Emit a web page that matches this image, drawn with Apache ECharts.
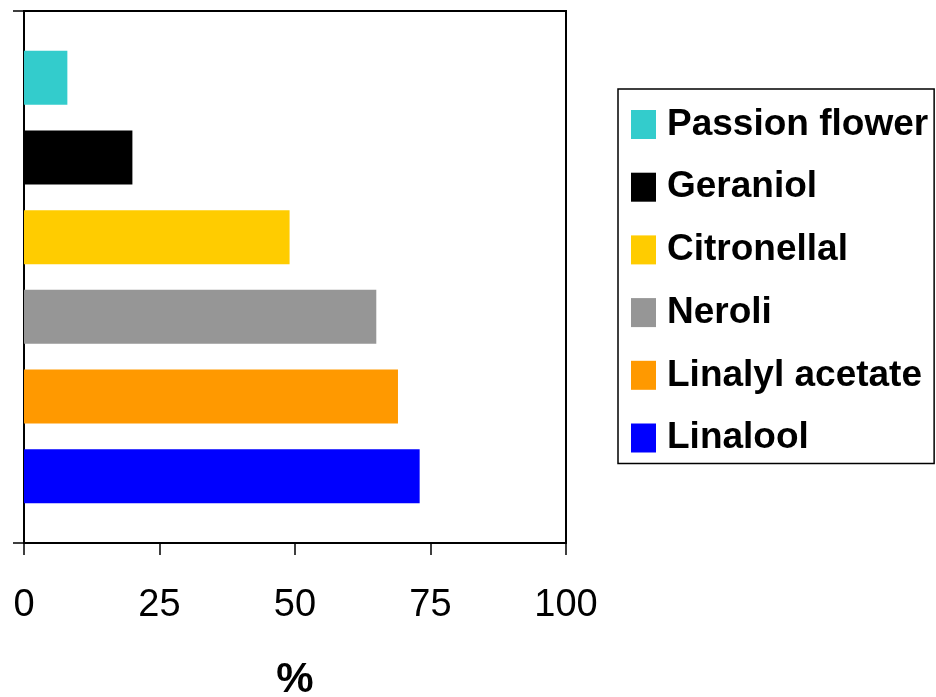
<!DOCTYPE html>
<html><head><meta charset="utf-8">
<script src="https://cdn.jsdelivr.net/npm/echarts@6/dist/echarts.min.js"></script>
<style>html,body{margin:0;padding:0;background:#fff}#c{width:936px;height:697px}</style>
</head><body><div id="c"></div>
<script>
const seriesNames = ['Passion flower', 'Geraniol', 'Citronellal', 'Neroli', 'Linalyl acetate', 'Linalool'];
const seriesValues = [8, 20, 49, 65, 69, 73];
const seriesColors = ['#33CCCC', '#000000', '#FFCC00', '#969696', '#FF9900', '#0000FF'];
const xTicks = [0, 25, 50, 75, 100];
const category = [''];

const FONT = '"Liberation Sans", Arial, sans-serif';
const chart = echarts.init(document.getElementById('c'));
chart.setOption({
  animation: false,
  backgroundColor: '#fff',
  grid: { left: 24, right: 370, top: 11, bottom: 154, outerBoundsMode: 'none', containLabel: false,
          show: true, borderColor: '#000', borderWidth: 2, backgroundColor: 'transparent' },
  legend: {
    data: seriesNames, orient: 'vertical', left: 618, top: 89,
    borderColor: '#000', borderWidth: 1.5, padding: [17, 6, 7, 13],
    itemWidth: 25, itemHeight: 29, itemGap: 25.7, icon: 'rect',
    textStyle: { fontFamily: FONT, fontWeight: 'bold', fontSize: 37, color: '#000', padding: [0, 0, 0, 6] }
  },
  xAxis: {
    type: 'value', min: xTicks[0], max: xTicks[xTicks.length - 1], interval: 25,
    name: '%', nameLocation: 'middle', nameGap: 116,
    nameTextStyle: { fontFamily: FONT, fontWeight: 'bold', fontSize: 42, color: '#000' },
    axisLine: { show: true, lineStyle: { color: '#000', width: 2 } },
    axisTick: { show: true, length: 12, lineStyle: { color: '#000', width: 1.5 } },
    axisLabel: { fontFamily: FONT, fontSize: 38, color: '#000', margin: 44,
                 formatter: v => xTicks.includes(v) ? String(v) : '' },
    splitLine: { show: false }
  },
  yAxis: {
    type: 'category', data: category,
    axisLine: { show: true, lineStyle: { color: '#000', width: 2 } },
    axisTick: { show: true, length: 11, lineStyle: { color: '#000', width: 1.5 } },
    axisLabel: { show: false }
  },
  series: seriesNames.map((n, i) => ({
    name: n, type: 'bar', data: [seriesValues[i]],
    barWidth: 54, barGap: '47.6%',
    itemStyle: { color: seriesColors[i] }
  }))
});
</script></body></html>
